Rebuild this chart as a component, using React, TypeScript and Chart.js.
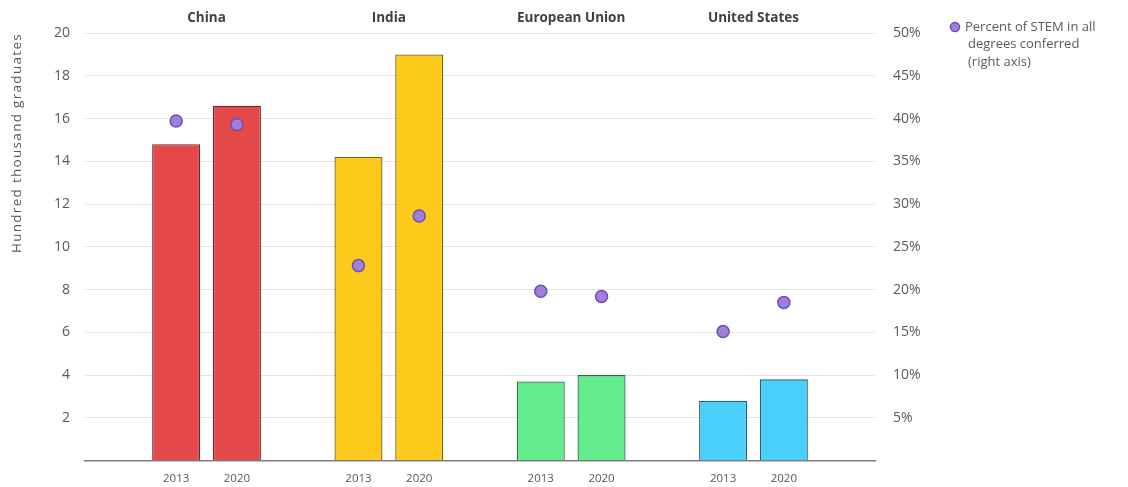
import React, { useEffect, useRef } from "react";
import { Chart, registerables } from "chart.js";

Chart.register(...registerables);

const groups = ["China", "India", "European Union", "United States"];
const years = ["2013", "2020"];
const graduates = [
  [14.8, 16.6],
  [14.2, 19.0],
  [3.7, 4.0],
  [2.8, 3.8],
];
const stemPercent = [
  [39.7, 39.3],
  [22.8, 28.6],
  [19.8, 19.2],
  [15.1, 18.5],
];
const groupColors = ["#e54848", "#fdca1c", "#62ec8d", "#48d0fa"];
const groupBorders = ["#6e2626", "#7d620c", "#2a6e3e", "#265f75"];
const legendLines = ["Percent of STEM in all", "degrees conferred", "(right axis)"];
const leftAxisTitle = "Hundred thousand graduates";

const FONT = "'Open Sans', 'Liberation Sans', sans-serif";
const TEXT = "#595959";

export default function App() {
  const ref = useRef<HTMLCanvasElement | null>(null);

  useEffect(() => {
    const labels: string[] = [""];
    const barData: (number | null)[] = [null];
    const dotData: (number | null)[] = [null];
    const colors: string[] = ["transparent"];
    const borders: string[] = ["transparent"];
    groups.forEach((g, gi) => {
      years.forEach((y, yi) => {
        labels.push(y);
        barData.push(graduates[gi][yi]);
        dotData.push(stemPercent[gi][yi]);
        colors.push(groupColors[gi]);
        borders.push(groupBorders[gi]);
      });
      labels.push("");
      barData.push(null);
      dotData.push(null);
      colors.push("transparent");
      borders.push("transparent");
    });

    const overlay = {
      id: "overlay",
      afterDraw(chart: any) {
        const ctx = chart.ctx;
        const x = chart.scales.x;
        const area = chart.chartArea;
        ctx.save();
        ctx.fillStyle = "#404040";
        ctx.font = `bold 13.5px ${FONT}`;
        ctx.textAlign = "center";
        ctx.textBaseline = "middle";
        groups.forEach((g, gi) => {
          const i1 = 1 + gi * (years.length + 1);
          const i2 = i1 + years.length - 1;
          const cx = (x.getPixelForValue(i1) + x.getPixelForValue(i2)) / 2;
          ctx.fillText(g, cx, area.top - 15);
        });
        // left axis title
        ctx.save();
        ctx.translate(17, area.top);
        ctx.rotate(-Math.PI / 2);
        ctx.font = `13.5px ${FONT}`;
        (ctx as any).letterSpacing = "1.3px";
        ctx.fillStyle = TEXT;
        ctx.textAlign = "right";
        ctx.textBaseline = "middle";
        ctx.fillText(leftAxisTitle, 0, 0);
        ctx.restore();
        // legend
        const lx = area.right + 80;
        const ly = area.top - 6;
        ctx.beginPath();
        ctx.arc(lx, ly, 4.5, 0, Math.PI * 2);
        ctx.fillStyle = "#a07fdc";
        ctx.fill();
        ctx.lineWidth = 1.5;
        ctx.strokeStyle = "#6d4fb3";
        ctx.stroke();
        ctx.fillStyle = TEXT;
        ctx.font = `13px ${FONT}`;
        ctx.textAlign = "left";
        legendLines.forEach((t, i) => {
          ctx.fillText(t, lx + 10 + (i === 0 ? 0 : 3), ly + i * 17.5);
        });
        ctx.restore();
      },
    };

    const chart = new Chart(ref.current as HTMLCanvasElement, {
      type: "bar",
      data: {
        labels,
        datasets: [
          {
            type: "line",
            label: "Percent of STEM",
            data: dotData,
            yAxisID: "y1",
            showLine: false,
            pointRadius: 6,
            pointBackgroundColor: "#a07fdc",
            pointBorderColor: "#6d4fb3",
            pointBorderWidth: 1.5,
            order: 0,
          } as any,
          {
            type: "bar",
            label: "Graduates",
            data: barData,
            yAxisID: "y",
            backgroundColor: colors,
            borderColor: borders,
            borderWidth: 1.3,
            barPercentage: 0.79,
            categoryPercentage: 1,
            order: 1,
          },
        ],
      },
      options: {
        animation: false,
        responsive: true,
        maintainAspectRatio: false,
        layout: { padding: { top: 33, left: 0, right: 0, bottom: 0 } },
        plugins: {
          legend: { display: false },
          tooltip: { enabled: false },
        },
        scales: {
          x: {
            grid: { display: false },
            border: { display: true, color: "#7f7f7f", width: 1.5 },
            ticks: { color: TEXT, font: { family: FONT, size: 11.5 }, padding: 3, autoSkip: false, maxRotation: 0 },
            afterFit(s: any) {
              s.height = 22;
            },
          },
          y: {
            position: "left",
            min: 0,
            max: 20,
            ticks: {
              stepSize: 2,
              color: TEXT,
              font: { family: FONT, size: 14 },
              padding: 15,
              callback: (v: any) => (v === 0 ? "" : String(v)),
            },
            grid: { color: "#e3e3e3", drawTicks: false, lineWidth: 1 },
            border: { display: false },
            afterFit(s: any) {
              s.width = 85;
            },
          },
          y1: {
            position: "right",
            min: 0,
            max: 50,
            ticks: {
              stepSize: 5,
              color: TEXT,
              font: { family: FONT, size: 14 },
              padding: 18,
              callback: (v: any) => (v === 0 ? "" : v + "%"),
            },
            grid: { drawOnChartArea: false, drawTicks: false },
            border: { display: false },
            afterFit(s: any) {
              s.width = 253;
            },
          },
        },
      },
      plugins: [overlay],
    });
    return () => chart.destroy();
  }, []);

  return (
    <div style={{ position: "fixed", left: 0, top: 0, width: 1128, height: 487, background: "#fff" }}>
      <canvas ref={ref} />
    </div>
  );
}
